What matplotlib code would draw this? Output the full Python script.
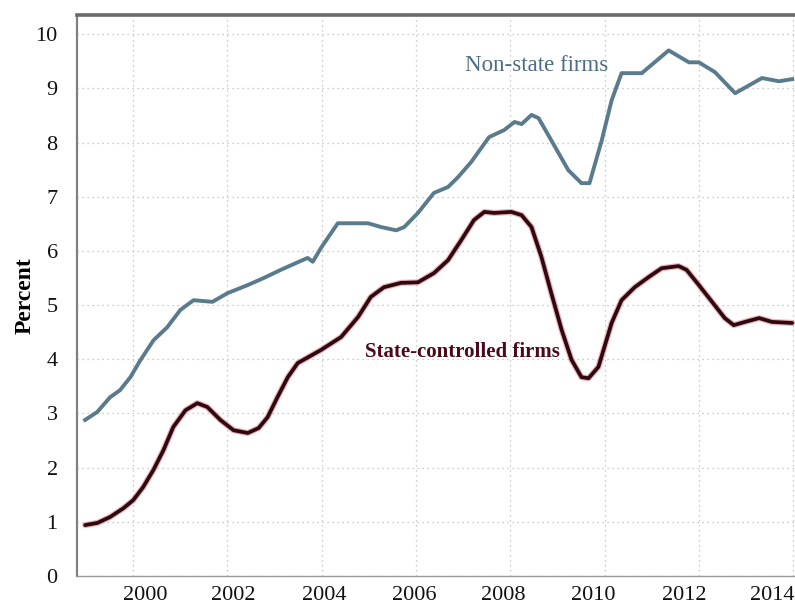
import matplotlib.pyplot as plt
import numpy as np

# datos (anio decimal, porcentaje)
non_state_years = [1998.98, 1999.24, 1999.51, 1999.72, 1999.94, 2000.15, 2000.43, 2000.72,
                   2001.00, 2001.28, 2001.68, 2002.00, 2002.43, 2002.77, 2003.13, 2003.49,
                   2003.70, 2003.81, 2003.98, 2004.34, 2004.98, 2005.26, 2005.58, 2005.75,
                   2006.04, 2006.38, 2006.68, 2006.89, 2007.17, 2007.55, 2007.87, 2008.09,
                   2008.24, 2008.45, 2008.60, 2008.87, 2009.23, 2009.51, 2009.68, 2009.94,
                   2010.15, 2010.36, 2010.79, 2011.36, 2011.79, 2012.00, 2012.34, 2012.77,
                   2013.34, 2013.70, 2013.98]
non_state = [2.88, 3.03, 3.30, 3.43, 3.67, 3.98, 4.35, 4.59,
             4.91, 5.09, 5.06, 5.22, 5.37, 5.50, 5.65, 5.79,
             5.87, 5.80, 6.05, 6.51, 6.51, 6.44, 6.38, 6.44,
             6.70, 7.07, 7.18, 7.36, 7.64, 8.10, 8.23, 8.38,
             8.34, 8.51, 8.45, 8.04, 7.49, 7.25, 7.25, 8.04,
             8.78, 9.28, 9.28, 9.70, 9.48, 9.48, 9.30, 8.91,
             9.19, 9.13, 9.17]

state_years = [1998.98, 1999.24, 1999.51, 1999.79, 2000.00, 2000.21, 2000.43, 2000.64,
               2000.85, 2001.11, 2001.36, 2001.57, 2001.85, 2002.13, 2002.43, 2002.66,
               2002.85, 2003.06, 2003.28, 2003.49, 2003.98, 2004.41, 2004.77, 2005.04,
               2005.32, 2005.68, 2006.04, 2006.38, 2006.68, 2006.96, 2007.23, 2007.45,
               2007.66, 2008.02, 2008.24, 2008.45, 2008.66, 2008.87, 2009.09, 2009.30,
               2009.51, 2009.66, 2009.87, 2010.15, 2010.36, 2010.64, 2010.94, 2011.21,
               2011.57, 2011.74, 2012.00, 2012.28, 2012.55, 2012.74, 2012.98, 2013.28,
               2013.55, 2013.98]
state = [0.94, 0.98, 1.09, 1.25, 1.40, 1.64, 1.96, 2.32,
         2.75, 3.06, 3.19, 3.12, 2.88, 2.69, 2.64, 2.73,
         2.93, 3.30, 3.67, 3.93, 4.17, 4.41, 4.78, 5.15,
         5.33, 5.41, 5.42, 5.59, 5.83, 6.20, 6.57, 6.72,
         6.70, 6.72, 6.66, 6.44, 5.89, 5.22, 4.54, 3.99,
         3.67, 3.65, 3.86, 4.67, 5.09, 5.33, 5.52, 5.68,
         5.72, 5.65, 5.37, 5.06, 4.76, 4.63, 4.69, 4.76,
         4.69, 4.67]

grid_years = [2000, 2002, 2004, 2006, 2008, 2010, 2012, 2014]
year_labels = ['2000', '2002', '2004', '2006', '2008', '2010', '2012', '2014']
# en el original las etiquetas quedan algo desplazadas respecto a la rejilla
label_pos = [2000.26, 2002.13, 2004.06, 2005.96, 2007.85, 2009.77, 2011.68, 2013.55]
pct_ticks = list(range(0, 11))

plt.rcParams['font.family'] = ['Liberation Serif', 'DejaVu Serif']

fig = plt.figure(figsize=(7.95, 6.07), dpi=100)
ax = fig.add_axes([0.097, 0.051, 0.903, 0.924])

# lineas
ax.plot(non_state_years, non_state, color='#5a7b8d', lw=2.8, solid_joinstyle='round', zorder=3)
ax.plot(state_years, state, color='#e8707f', lw=4.4, alpha=0.55, solid_capstyle='round', zorder=3)
ax.plot(state_years, state, color='#2c0a12', lw=2.7, solid_capstyle='round', zorder=4)

ax.text(2008.55, 9.43, 'Non-state firms', color='#4f6d82', fontsize=16.5,
        ha='center', va='center')
ax.text(2006.98, 4.13, 'State-controlled firms', color='#4a0a1a', fontsize=15,
        fontweight='bold', ha='center', va='center')

ax.set_xlim(1998.81, 2014.04)
ax.set_ylim(0, 10.35)
ax.set_xticks(label_pos)
ax.set_xticklabels(year_labels)
ax.set_xticks(grid_years, minor=True)
ax.set_yticks(pct_ticks)
ax.tick_params(axis='both', which='both', length=0, labelsize=16, colors='#111111')
ax.tick_params(axis='y', pad=14)
ax.tick_params(axis='x', pad=7)
ax.set_ylabel('Percent', fontsize=17, fontweight='bold', labelpad=0)

ax.grid(True, which='minor', axis='x', color='#bdbdbd', lw=0.9, linestyle=(0, (1, 3)))
ax.grid(True, which='major', axis='y', color='#bdbdbd', lw=0.9, linestyle=(0, (1, 3)))
ax.grid(False, which='major', axis='x')
ax.set_axisbelow(True)

ax.spines['right'].set_visible(False)
ax.spines['left'].set_color('#808080')
ax.spines['left'].set_linewidth(1.6)
ax.spines['top'].set_color('#6a6a6a')
ax.spines['top'].set_linewidth(2.6)
ax.spines['bottom'].set_color('#9a9a9a')
ax.spines['bottom'].set_linewidth(1.0)

fig.savefig('out.png', dpi=100)
